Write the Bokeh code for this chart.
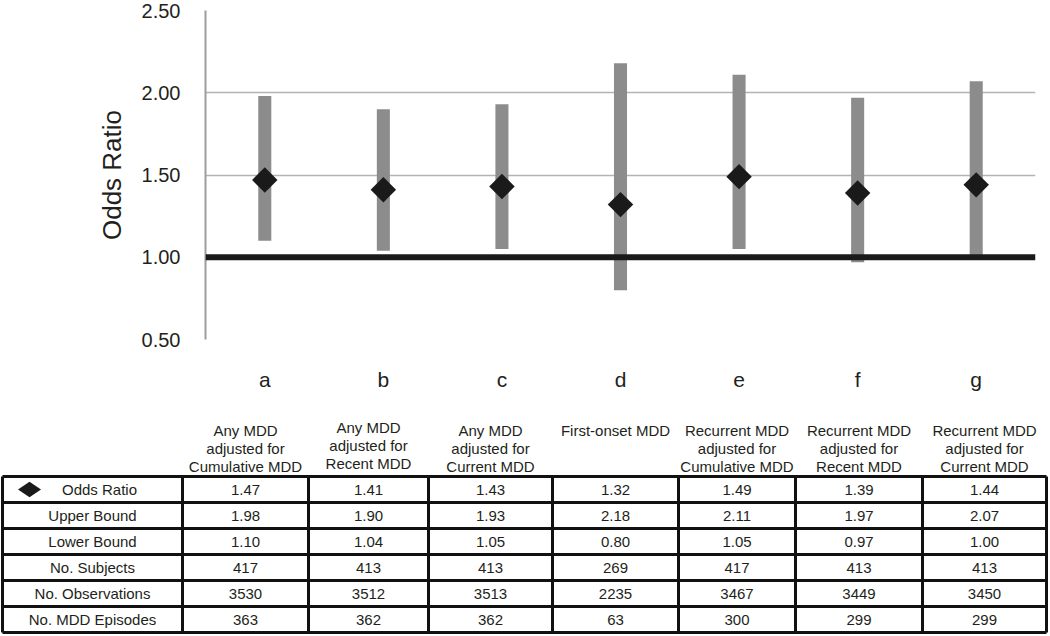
import math
from bokeh.plotting import figure
from bokeh.layouts import column
from bokeh.models import Range1d, FixedTicker, Span, NumeralTickFormatter
from bokeh.core.properties import value
from bokeh.embed import file_html
from bokeh.resources import INLINE

# ---------------- data ----------------
categories = ["a", "b", "c", "d", "e", "f", "g"]
odds_ratio = [1.47, 1.41, 1.43, 1.32, 1.49, 1.39, 1.44]
upper_bound = [1.98, 1.90, 1.93, 2.18, 2.11, 1.97, 2.07]
lower_bound = [1.10, 1.04, 1.05, 0.80, 1.05, 0.97, 1.00]
n_subjects = [417, 413, 413, 269, 417, 413, 413]
n_observations = [3530, 3512, 3513, 2235, 3467, 3449, 3450]
n_episodes = [363, 362, 362, 63, 300, 299, 299]
y_ticks = [0.5, 1.0, 1.5, 2.0, 2.5]
grid_ticks = [1.5, 2.0, 2.5]
column_headers = [
    ["Any MDD", "adjusted for", "Cumulative MDD"],
    ["Any MDD", "adjusted for", "Recent MDD"],
    ["Any MDD", "adjusted for", "Current MDD"],
    ["First-onset MDD"],
    ["Recurrent MDD", "adjusted for", "Cumulative MDD"],
    ["Recurrent MDD", "adjusted for", "Recent MDD"],
    ["Recurrent MDD", "adjusted for", "Current MDD"],
]
row_labels = ["Odds Ratio", "Upper Bound", "Lower Bound", "No. Subjects",
              "No. Observations", "No. MDD Episodes"]

FONT = "Liberation Sans"
TEXT = "#231f20"

# ---------------- chart ----------------
top = figure(width=1050, height=400, x_range=categories, y_range=Range1d(0.5, 2.5),
             output_backend="svg", toolbar_location=None,
             min_border_left=205, min_border_right=15, min_border_top=10, min_border_bottom=61)
try:
    top.frame_align = False
except Exception:
    pass
top.outline_line_color = None
top.xgrid.grid_line_color = None
top.ygrid.ticker = FixedTicker(ticks=grid_ticks)
top.ygrid.grid_line_color = "#b3b3b3"
top.ygrid.grid_line_width = 1.5

yax = top.yaxis[0]
yax.ticker = FixedTicker(ticks=y_ticks)
yax.formatter = NumeralTickFormatter(format="0.00")
yax.axis_line_color = "#9d9d9d"
yax.axis_line_width = 2
yax.major_tick_line_color = None
yax.minor_tick_line_color = None
yax.major_tick_out = 0
yax.major_tick_in = 0
yax.major_label_text_font = FONT
yax.major_label_text_font_size = "20px"
yax.major_label_text_color = TEXT
yax.major_label_standoff = 25
yax.axis_label = "Odds Ratio"
yax.axis_label_text_font = FONT
yax.axis_label_text_font_size = "26px"
yax.axis_label_text_font_style = "normal"
yax.axis_label_text_color = TEXT
yax.axis_label_standoff = 12

xax = top.xaxis[0]
xax.axis_line_color = None
xax.major_tick_line_color = None
xax.major_tick_out = 0
xax.major_tick_in = 0
xax.major_label_text_font = FONT
xax.major_label_text_font_size = "21px"
xax.major_label_text_color = TEXT
xax.major_label_standoff = 28

top.vbar(x=categories, top=upper_bound, bottom=lower_bound, width=0.11,
         fill_color="#8c8c8c", line_color=None)
top.add_layout(Span(location=1.0, dimension="width", line_color="#1a1a1a", line_width=6))
top.scatter(x=categories, y=odds_ratio, marker="square", angle=math.pi / 4, size=18,
            fill_color="#1a1a1a", line_color=None)

# ---------------- table ----------------
# table drawn in page-pixel coordinates (x: 0..1050, y: 400..636)
tbl = figure(width=1050, height=236, x_range=Range1d(0, 1050), y_range=Range1d(636, 400),
             x_axis_type=None, y_axis_type=None, output_backend="svg", toolbar_location=None,
             min_border_left=0, min_border_right=0, min_border_top=0, min_border_bottom=0)
try:
    tbl.frame_align = False
except Exception:
    pass
tbl.outline_line_color = None
tbl.grid.visible = False

col_edges = [2, 182, 308, 428, 552, 678, 795, 922, 1046]
row_top = 476
row_h = 26
row_edges = [row_top + i * row_h for i in range(len(row_labels) + 1)]
col_centers = [(col_edges[i] + col_edges[i + 1]) / 2 for i in range(len(col_edges) - 1)]
row_centers = [(row_edges[i] + row_edges[i + 1]) / 2 for i in range(len(row_edges) - 1)]

# borders
hy = list(row_edges)
tbl.segment(x0=[col_edges[0]] * len(hy), y0=hy, x1=[col_edges[-1]] * len(hy), y1=hy,
            line_color="#111111", line_width=3)
vx = list(col_edges)
tbl.segment(x0=vx, y0=[row_edges[0]] * len(vx), x1=vx, y1=[row_edges[-1]] * len(vx),
            line_color="#111111", line_width=3)

# header texts
hx, hyy, ht = [], [], []
header_line_y = [430, 448, 466]
header_shift = [0, -3, 0, 0, 0, 0, 0]
for ci, lines in enumerate(column_headers):
    for li, s in enumerate(lines):
        hx.append(col_centers[ci + 1]); hyy.append(header_line_y[li] + header_shift[ci]); ht.append(s)
tbl.text(x=hx, y=hyy, text=ht, text_align="center", text_baseline="middle",
         text_font=value(FONT), text_font_size="15px", text_color=TEXT)

# row labels
lx = [col_centers[0] + (7 if i == 0 else 0) for i in range(len(row_labels))]
tbl.text(x=lx, y=row_centers, text=row_labels, text_align="center", text_baseline="middle",
         text_font=value(FONT), text_font_size="15px", text_color=TEXT)
tbl.scatter(x=[29], y=[row_centers[0]], marker="diamond", angle=math.pi / 2, size=23,
            fill_color="#1a1a1a", line_color=None)

# cell values
rows = [
    ["%.2f" % v for v in odds_ratio],
    ["%.2f" % v for v in upper_bound],
    ["%.2f" % v for v in lower_bound],
    [str(v) for v in n_subjects],
    [str(v) for v in n_observations],
    [str(v) for v in n_episodes],
]
cx, cy, ct = [], [], []
for ri, vals in enumerate(rows):
    for ci, s in enumerate(vals):
        cx.append(col_centers[ci + 1]); cy.append(row_centers[ri]); ct.append(s)
tbl.text(x=cx, y=cy, text=ct, text_align="center", text_baseline="middle",
         text_font=value(FONT), text_font_size="15px", text_color=TEXT)

layout = column(top, tbl, spacing=0)
open("out.html", "w").write(file_html(layout, INLINE))
